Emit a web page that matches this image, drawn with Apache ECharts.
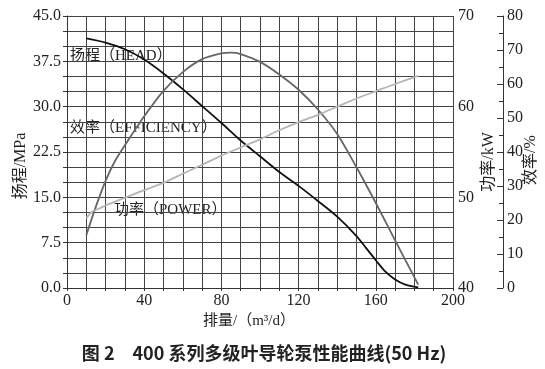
<!DOCTYPE html>
<html><head><meta charset="utf-8">
<script src="https://cdn.jsdelivr.net/npm/echarts@6/dist/echarts.min.js"></script>
<style>html,body{margin:0;padding:0;background:#fff}#c{width:545px;height:369px}</style>
</head><body><div id="c"></div>
<script>
const headData = [[10,41.3],[20,40.6],[30,39.5],[40,37.8],[50,35.5],[60,32.9],[70,30.1],[80,27.3],[90,24.4],[100,21.8],[110,19.2],[120,16.9],[130,14.4],[140,11.8],[150,8.6],[155,6.6],[160,4.6],[165,2.7],[170,1.4],[175,0.6],[182,0.1]];
const effData = [[10,15.5],[15,24],[20,31.5],[25,37.5],[30,42],[40,50.5],[50,58],[60,63.5],[70,67.3],[80,69],[85,69.2],[90,68.8],[100,66.5],[110,62.8],[120,58.3],[130,52.5],[140,45.3],[150,35.5],[160,25],[170,14],[182,1]];
const powerData = [[10,47.7],[13,48.4],[17,48.8],[20,49.1],[30,49.95],[40,50.8],[50,51.6],[60,52.6],[70,53.6],[80,54.6],[90,55.5],[100,56.4],[110,57.4],[120,58.3],[130,59.1],[140,60.0],[150,60.9],[160,61.7],[170,62.5],[182,63.4]];
const xName = '排量/（m³/d）';
const caption = '图 2　400 系列多级叶导轮泵性能曲线(50 Hz)';

const serif = '"Liberation Serif","DejaVu Serif","Noto Sans CJK SC",serif';
const lbl = {fontFamily: serif, fontSize: 16, color: '#222'};
const chart = echarts.init(document.getElementById('c'));
chart.setOption({
  animation: false,
  grid: {left: 67, right: 92, top: 16, bottom: 81},
  xAxis: {
    type: 'value', min: 0, max: 200, interval: 10,
    axisLine: {lineStyle: {color: '#333'}},
    axisTick: {show: true, length: 3, lineStyle: {color: '#333'}},
    axisLabel: Object.assign({}, lbl, {margin: 5, formatter: v => v % 40 === 0 ? String(v) : ''}),
    splitLine: {show: true, lineStyle: {color: '#444', width: 1}}
  },
  yAxis: [
    {type: 'value', min: 0, max: 45, interval: 2.5,
     axisLine: {show: true, lineStyle: {color: '#333'}},
     axisTick: {show: true, length: 4, lineStyle: {color: '#333'}},
     axisLabel: Object.assign({}, lbl, {margin: 6, formatter: v => (Math.abs(v / 7.5 - Math.round(v / 7.5)) < 1e-6) ? v.toFixed(1) : ''}),
     splitLine: {show: true, lineStyle: {color: '#444', width: 1}}},
    {type: 'value', min: 40, max: 70, interval: 10, position: 'right',
     axisLine: {show: false}, axisTick: {show: false},
     axisLabel: Object.assign({}, lbl, {margin: 5}),
     splitLine: {show: false}},
    {type: 'value', min: 0, max: 80, interval: 10, position: 'right', offset: 50,
     axisLine: {show: true, lineStyle: {color: '#333'}},
     axisTick: {show: true, inside: true, length: 6, lineStyle: {color: '#333'}},
     minorTick: {show: true, splitNumber: 2, length: 4, lineStyle: {color: '#333'}},
     axisLabel: Object.assign({}, lbl, {margin: 4}),
     splitLine: {show: false}}
  ],
  series: [
    {type: 'line', name: 'head', yAxisIndex: 0, data: headData, smooth: 0.3, showSymbol: false,
     lineStyle: {color: '#111', width: 1.8}},
    {type: 'line', name: 'eff', yAxisIndex: 2, data: effData, smooth: 0.3, showSymbol: false,
     lineStyle: {color: '#666', width: 1.8}},
    {type: 'line', name: 'power', yAxisIndex: 1, data: powerData, smooth: 0.3, showSymbol: false,
     lineStyle: {color: '#b5b5b5', width: 1.8}}
  ],
  graphic: [
    {type: 'text', left: 70, top: 49, style: {text: '扬程（HEAD）', font: '15px ' + serif, fill: '#222'}},
    {type: 'text', left: 70, top: 121, style: {text: '效率（EFFICIENCY）', font: '15px ' + serif, fill: '#222'}},
    {type: 'text', left: 114, top: 203, style: {text: '功率（POWER）', font: '15px ' + serif, fill: '#222'}},
    {type: 'text', x: 21, y: 166, rotation: Math.PI / 2, style: {text: '扬程/MPa', font: '16px ' + serif, fill: '#222', align: 'center', verticalAlign: 'middle'}},
    {type: 'text', x: 489, y: 162, rotation: Math.PI / 2, style: {text: '功率/kW', font: '16px ' + serif, fill: '#222', align: 'center', verticalAlign: 'middle'}},
    {type: 'text', x: 531, y: 160, rotation: Math.PI / 2, style: {text: '效率/%', font: '16px ' + serif, fill: '#222', align: 'center', verticalAlign: 'middle'}},
    {type: 'text', x: 249, y: 321, style: {text: xName, font: '15px ' + serif, fill: '#222', align: 'center', verticalAlign: 'middle'}},
    {type: 'text', x: 264, y: 353, style: {text: caption, font: 'bold 18px "Noto Sans CJK SC","DejaVu Sans",sans-serif', fill: '#222', align: 'center', verticalAlign: 'middle'}}
  ]
});
</script></body></html>
